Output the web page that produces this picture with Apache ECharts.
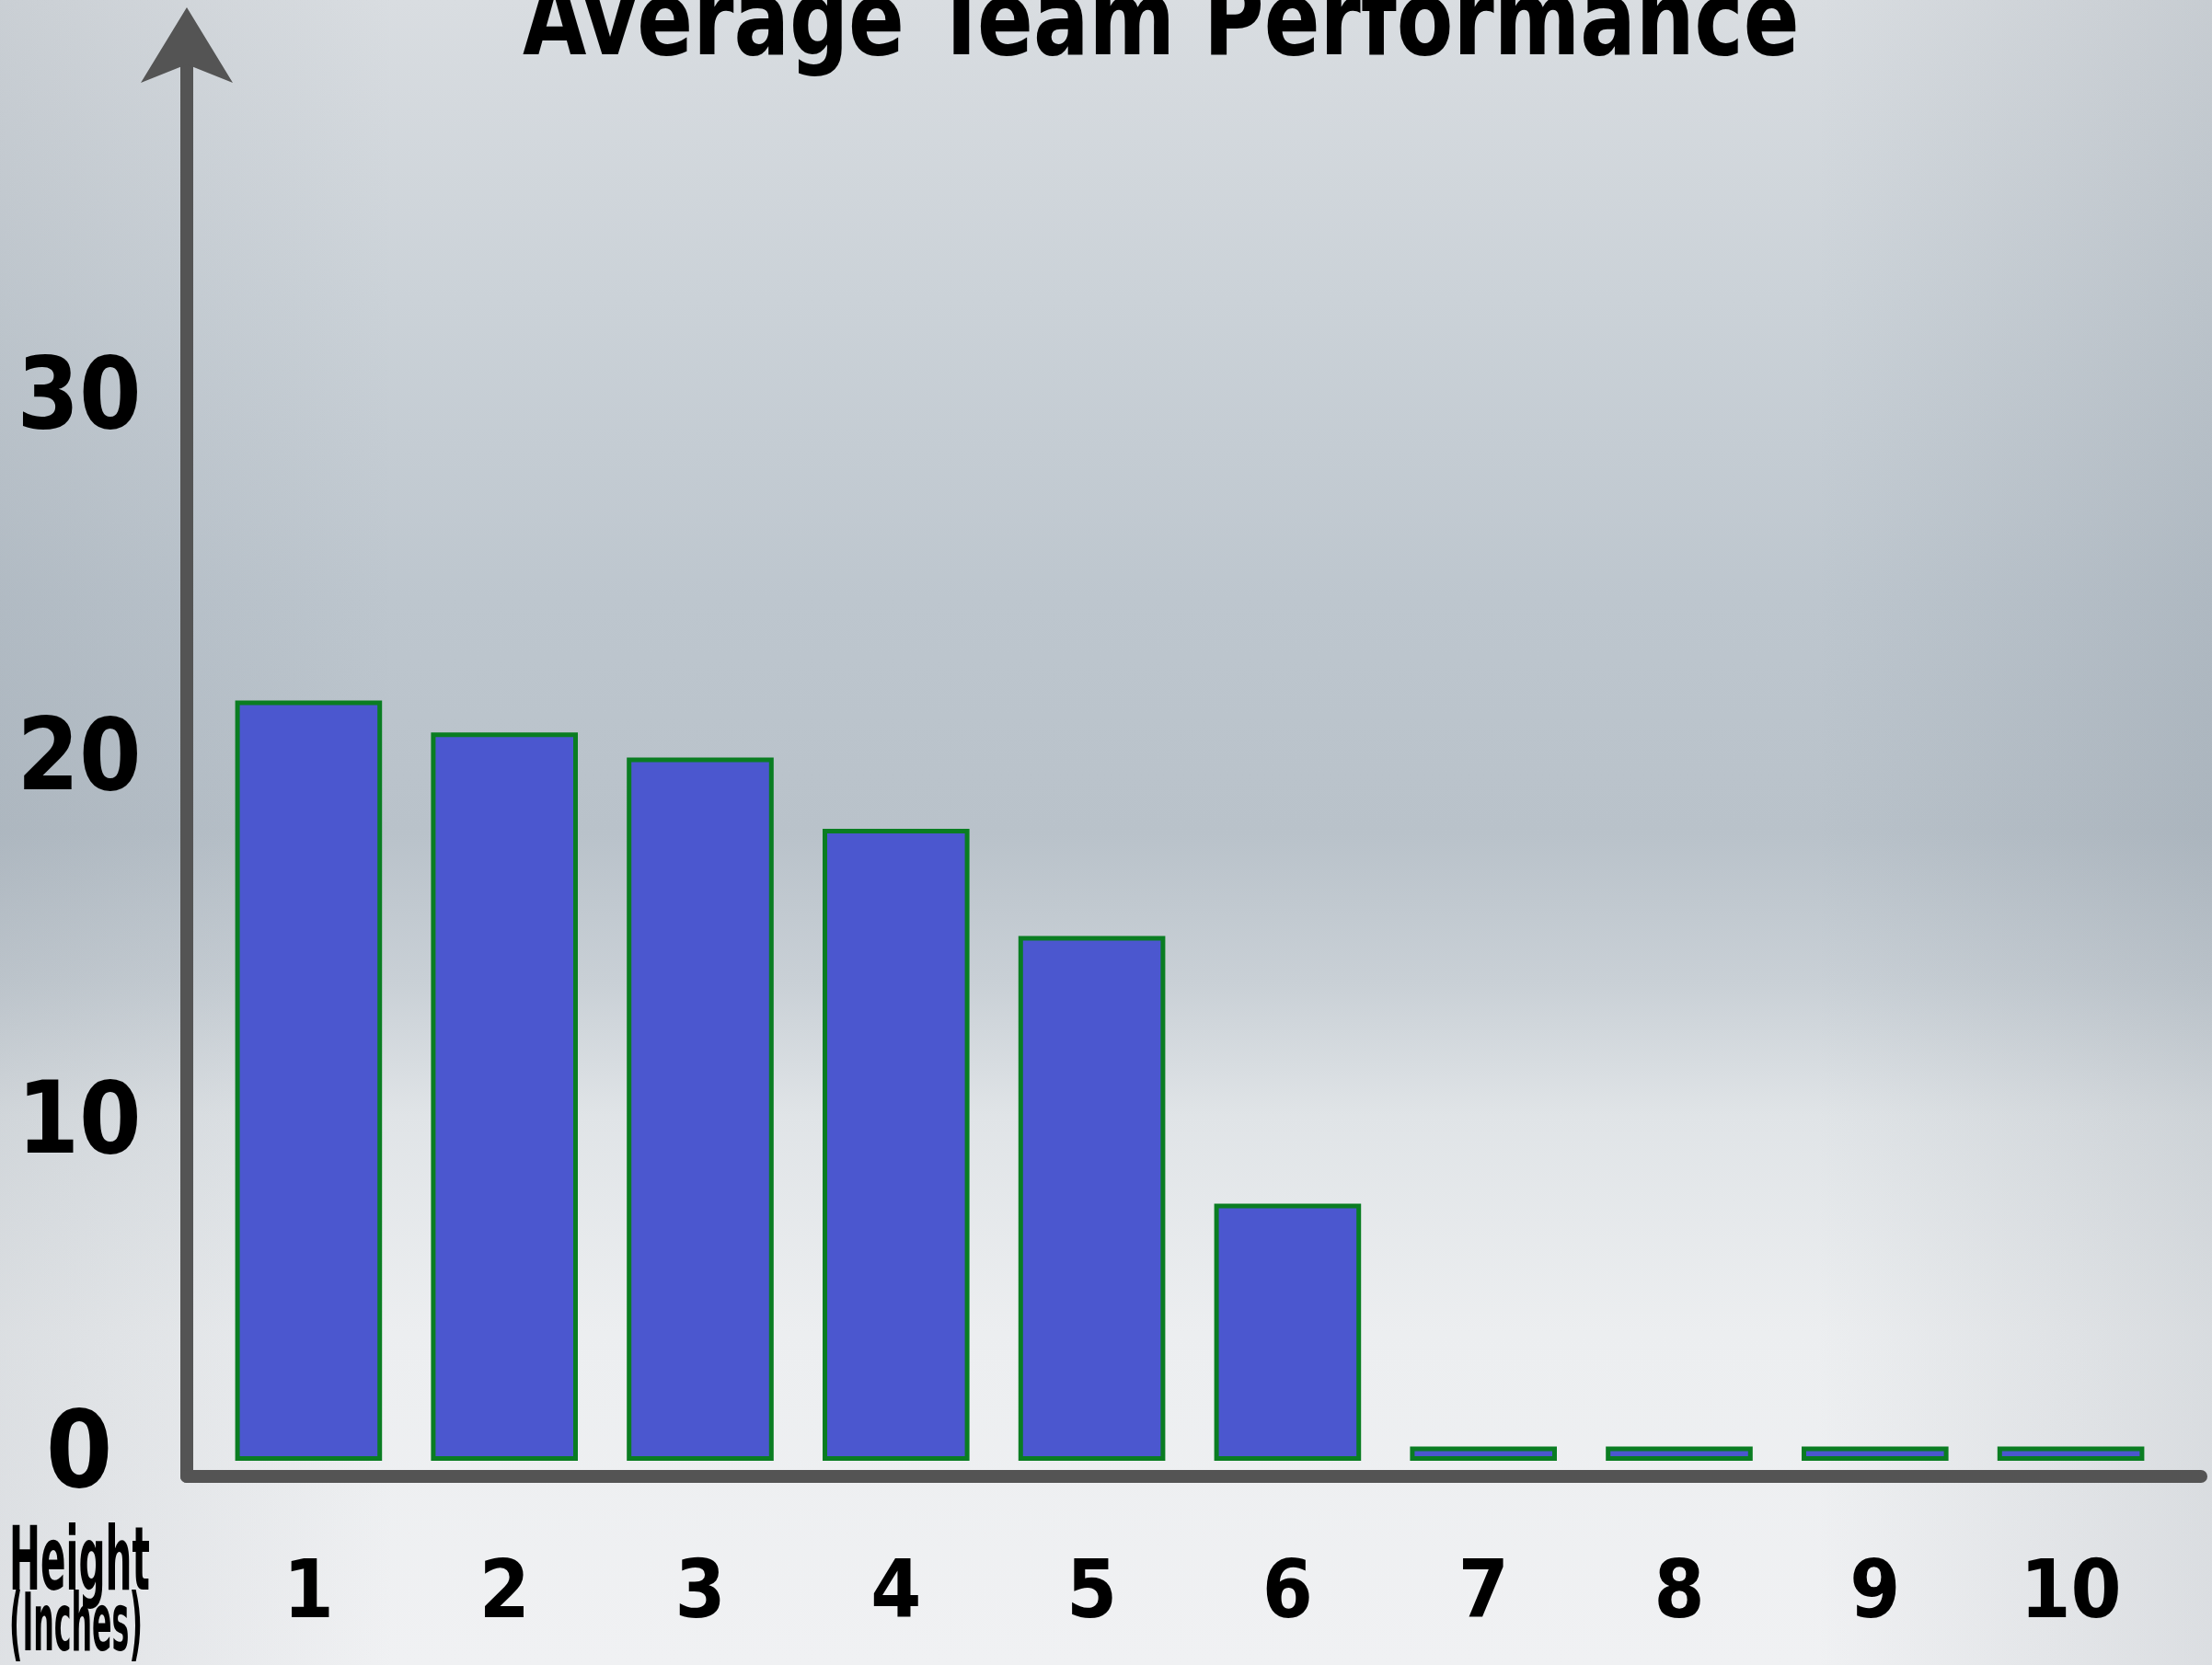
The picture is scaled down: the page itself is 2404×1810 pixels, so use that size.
<!DOCTYPE html>
<html>
<head>
<meta charset="utf-8">
<title>Average Team Performance</title>
<script src="https://cdn.jsdelivr.net/npm/echarts@6.0.0/dist/echarts.min.js"></script>
<style>
    html, body {
        margin: 0;
        padding: 0;
    }
    #main {
        width: 2404px;
        height: 1810px;
        /* grey slide background: light top, darker band, light bottom */
        background:
            linear-gradient(to right, rgba(70, 85, 100, 0.10), rgba(70, 85, 100, 0) 18%, rgba(70, 85, 100, 0) 82%, rgba(70, 85, 100, 0.12)),
            linear-gradient(to bottom, #d9dde1 0%, #cbd2d8 18%, #bdc6ce 36%, #b9c2ca 50%, #c9d0d6 59%, #e0e4e7 67%, #eceef0 80%, #f0f1f3 100%);
    }
</style>
</head>
<body>
<div id="main"></div>
<script>
// 柱子数据
var categories = ['1', '2', '3', '4', '5', '6', '7', '8', '9', '10'];
var values = [21.3, 20.4, 19.7, 17.7, 14.7, 7.2, 0.4, 0.4, 0.4, 0.4];
var yTicks = [0, 10, 20, 30];

var yMin = -0.44;
var yMax = 39.66;
var axisColor = '#545454';
var labelFont = '"DejaVu Sans Condensed", "DejaVu Sans", sans-serif';

var chart = echarts.init(document.getElementById('main'));

chart.setOption({
    backgroundColor: 'transparent',
    animation: false,
    grid: [
        // bars + labels
        { left: 229, width: 2128, top: 49, bottom: 205 },
        // hand drawn looking axis lines
        { left: 203, right: 12, top: 49, bottom: 205 }
    ],
    xAxis: [
        {
            gridIndex: 0,
            type: 'category',
            data: categories,
            axisLine: { show: false, onZero: false },
            axisTick: { show: false },
            axisLabel: {
                margin: 130,
                verticalAlign: 'middle',
                fontFamily: labelFont,
                fontWeight: 'bold',
                fontSize: 88,
                color: '#000'
            }
        },
        {
            gridIndex: 1,
            type: 'value',
            min: 0,
            max: 1,
            axisLine: {
                show: true,
                onZero: false,
                lineStyle: { color: axisColor, width: 14 }
            },
            axisTick: { show: false },
            axisLabel: { show: false },
            splitLine: { show: false }
        }
    ],
    yAxis: [
        {
            gridIndex: 0,
            type: 'value',
            min: yMin,
            max: yMax,
            axisLine: { show: false },
            axisTick: { show: false },
            splitLine: { show: false },
            axisLabel: {
                customValues: yTicks,
                margin: 143,
                align: 'center',
                fontFamily: labelFont,
                fontWeight: 'bold',
                fontSize: 108,
                color: '#000',
                formatter: function (v) {
                    return '{t' + v + '|' + v + '}';
                },
                // the labels on the slide sit a bit off the exact ticks
                rich: {
                    t0: { fontSize: 116, padding: [0, 0, 4, 0] },
                    t10: { padding: [50, 0, 0, 0] },
                    t20: { padding: [36, 0, 0, 0] },
                    t30: { padding: [26, 0, 0, 0] }
                }
            }
        },
        {
            gridIndex: 1,
            type: 'value',
            min: yMin,
            max: yMax,
            axisLine: {
                show: true,
                onZero: false,
                symbol: ['none', 'path://M50,0 L100,82 L50,62 L0,82 Z'],
                symbolSize: [100, 82],
                lineStyle: { color: axisColor, width: 14 }
            },
            axisTick: { show: false },
            axisLabel: { show: false },
            splitLine: { show: false }
        }
    ],
    graphic: [
        {
            type: 'text',
            x: 568,
            y: 30,
            scaleX: 0.89,
            style: {
                text: 'Average Team Performance',
                fontFamily: labelFont,
                fontWeight: 'bold',
                fontSize: 112,
                fill: '#000',
                align: 'left',
                verticalAlign: 'middle'
            }
        },
        {
            type: 'text',
            x: 10,
            y: 1703,
            scaleX: 0.47,
            style: {
                text: 'Height',
                fontFamily: labelFont,
                fontWeight: 'bold',
                fontSize: 96,
                fill: '#000',
                align: 'left',
                verticalAlign: 'middle'
            }
        },
        {
            type: 'text',
            x: 10,
            y: 1771,
            scaleX: 0.4,
            style: {
                text: '(Inches)',
                fontFamily: labelFont,
                fontWeight: 'bold',
                fontSize: 88,
                fill: '#000',
                align: 'left',
                verticalAlign: 'middle'
            }
        }
    ],
    series: [
        {
            type: 'bar',
            xAxisIndex: 0,
            yAxisIndex: 0,
            data: values,
            barCategoryGap: '25%',
            itemStyle: {
                color: '#4b57cf',
                borderColor: '#0a7d22',
                borderWidth: 5
            }
        }
    ]
});
</script>
</body>
</html>
